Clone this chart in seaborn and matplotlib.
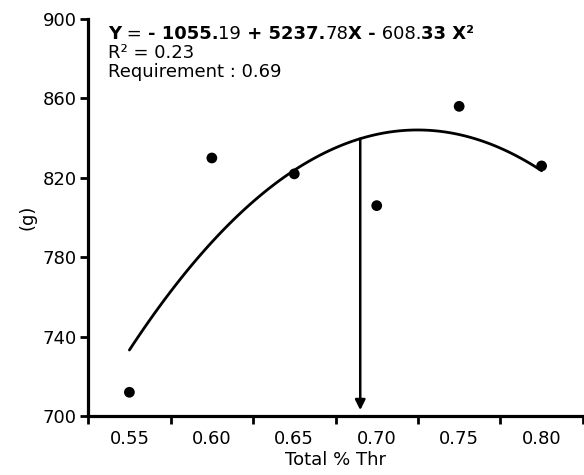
import numpy as np
import pandas as pd
import seaborn as sns
import matplotlib.pyplot as plt

# values
thr = [0.55, 0.60, 0.65, 0.70, 0.75, 0.80]
weight = [712, 830, 822, 806, 856, 826]
requirement = 0.69
y_ticks = [700, 740, 780, 820, 860, 900]
x_labels = ["0.55", "0.60", "0.65", "0.70", "0.75", "0.80"]
# equation pieces as printed (bold / regular mix)
eq_parts = [("Y", "bold"), (" = ", "normal"), ("- 1055.", "bold"), ("19", "normal"),
            (" + 5237.", "bold"), ("78", "normal"), ("X -", "bold"), (" 608.", "normal"),
            ("33 X²", "bold")]

df = pd.DataFrame({"thr": thr, "g": weight})

sns.set_style("ticks")
plt.rcParams["font.family"] = ["DejaVu Sans"]
for k in ["text.color", "axes.labelcolor", "xtick.color", "ytick.color", "axes.edgecolor"]:
    plt.rcParams[k] = "black"

fig = plt.figure(figsize=(5.84, 4.75), dpi=100)
ax = fig.add_axes([0.151, 0.124, 0.847, 0.836])

sns.regplot(data=df, x="thr", y="g", order=2, ci=None, truncate=True, ax=ax,
            scatter_kws=dict(s=60, color="black", edgecolor="none", alpha=1, zorder=3),
            line_kws=dict(color="black", lw=2.0))

# arrow at requirement, starting on the fitted curve
coef = np.polyfit(thr, weight, 2)
y_req = np.polyval(coef, requirement)
ax.annotate("", xy=(requirement, 703), xytext=(requirement, y_req),
            arrowprops=dict(arrowstyle="-|>", color="black", lw=1.8,
                            mutation_scale=15, shrinkA=0, shrinkB=0))

ax.set_xlim(0.525, 0.825)
ax.set_ylim(700, 900)
ax.set_yticks(y_ticks)
ax.set_xticks(thr)
ax.set_xticklabels(x_labels)
ax.set_xticks(np.arange(0.525, 0.826, 0.05), minor=True)
ax.tick_params(axis="x", which="major", length=0, pad=10, labelsize=13)
ax.tick_params(axis="x", which="minor", length=5.5, width=2)
ax.tick_params(axis="y", length=6, width=2, pad=2.5, labelsize=13)

for s in ["top", "right"]:
    ax.spines[s].set_visible(False)
for s in ["left", "bottom"]:
    ax.spines[s].set_linewidth(2.3)

ax.set_xlabel("Total % Thr", fontsize=13, labelpad=2.5)
ax.set_ylabel("(g)", fontsize=13, labelpad=4)

t = ax.text(0.04, 0.962, eq_parts[0][0], transform=ax.transAxes, fontsize=13,
            fontweight=eq_parts[0][1], va="center")
for txt, w in eq_parts[1:]:
    t = ax.annotate(txt, xy=(1, 0), xycoords=t, va="bottom", fontsize=13, fontweight=w)
ax.text(0.04, 0.915, "R² = 0.23", transform=ax.transAxes, fontsize=13, va="center")
ax.text(0.04, 0.867, "Requirement : 0.69", transform=ax.transAxes, fontsize=13, va="center")

fig.savefig("out.png", dpi=100)
